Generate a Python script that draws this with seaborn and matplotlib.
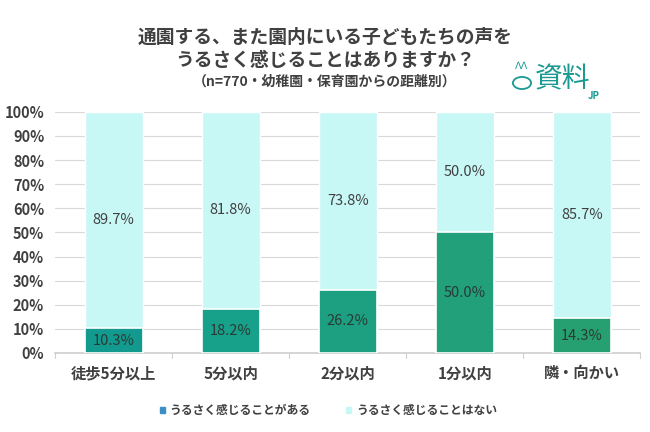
import matplotlib
matplotlib.use("Agg")
import matplotlib.pyplot as plt
from matplotlib.patches import Patch, Circle
import seaborn as sns
import pandas as pd

# data
categories = ["徒歩5分以上", "5分以内", "2分以内", "1分以内", "隣・向かい"]
yes_pct = [10.3, 18.2, 26.2, 50.0, 14.3]   # うるさく感じることがある
no_pct = [89.7, 81.8, 73.8, 50.0, 85.7]    # うるさく感じることはない
series_names = ["うるさく感じることがある", "うるさく感じることはない"]

yes_colors = ["#129a8e", "#17a08a", "#1ca081", "#21a07a", "#26a070"]
no_color = "#c8f8f6"
text_color = "#404040"
logo_color = "#1a9a93"

sns.set_theme(style="white")
plt.rcParams["font.family"] = ["Noto Sans CJK JP", "DejaVu Sans"]

df = pd.DataFrame({"cat": categories, "yes": yes_pct, "no": no_pct})
df["total"] = df["yes"] + df["no"]

fig = plt.figure(figsize=(6.5, 4.32), dpi=100)
ax = fig.add_axes([0.085, 0.183, 0.9, 0.558])

# full-height (light) bars, then the lower segment on top of them
sns.barplot(data=df, x="cat", y="total", color=no_color, width=0.5,
            saturation=1, ax=ax, zorder=2)
sns.barplot(data=df, x="cat", y="yes", hue="cat", palette=yes_colors,
            width=0.5, saturation=1, legend=False, ax=ax, zorder=3,
            edgecolor="white", linewidth=1.2)

upper = ax.containers[0]
for patch, y0, v in zip(upper, yes_pct, no_pct):
    ax.text(patch.get_x() + patch.get_width() / 2, y0 + v / 2, f"{v:.1f}%",
            ha="center", va="center", fontsize=10.5, color=text_color,
            zorder=5)
for cont, v in zip(ax.containers[1:], yes_pct):
    ax.bar_label(cont, labels=[f"{v:.1f}%"], label_type="center",
                 fontsize=10.5, color="#2a3a36", zorder=5)

ax.set_ylim(0, 100)
ax.set_xlim(-0.5, len(categories) - 0.5)
ax.set_yticks(range(0, 101, 10))
ax.set_yticklabels([f"{t}%" for t in range(0, 101, 10)], fontsize=10.5,
                   color=text_color)
ax.yaxis.grid(True, color="#d9d9d9", linewidth=0.8, zorder=0)
ax.set_axisbelow(True)
ax.tick_params(axis="y", length=0, pad=8)
ax.tick_params(axis="x", length=0, pad=9, labelsize=11, labelcolor=text_color)
for lbl in ax.get_xticklabels() + ax.get_yticklabels():
    lbl.set_fontweight("bold")
ax.set_xlabel("")
ax.set_ylabel("")
for s in ["top", "right", "left"]:
    ax.spines[s].set_visible(False)
ax.spines["bottom"].set_color("#d0d0d0")

# small separators between categories below the axis
for i in range(len(categories) + 1):
    ax.plot([i - 0.5, i - 0.5], [0, -2.2], color="#d0d0d0", lw=0.8,
            clip_on=False)

# title
fig.text(0.5, 0.887, "通園する、また園内にいる子どもたちの声を\nうるさく感じることはありますか？",
         ha="center", va="center", fontsize=13.5, fontweight="bold",
         color=text_color, linespacing=1.3)
fig.text(0.5, 0.81, "（n=770・幼稚園・保育園からの距離別）", ha="center",
         va="center", fontsize=10, fontweight="bold", color=text_color)

# logo
fig.text(0.822, 0.815, "資料", ha="left", va="center", fontsize=20,
         color=logo_color)
fig.text(0.905, 0.778, "JP", ha="left", va="center", fontsize=7,
         fontweight="bold", color=logo_color)
fig.patches.append(Circle((522 / 650, 1 - 83 / 432), 0.014, lw=1.3,
                          ec=logo_color, fc="none",
                          transform=fig.transFigure))
fig.text(522 / 650, 1 - 66 / 432, "ᐱᐱ", ha="center", va="center",
         fontsize=7, color=logo_color, family=["DejaVu Sans"])

handles = [Patch(color="#3b8fc4"), Patch(color=no_color)]
fig.legend(handles, series_names, loc="center", bbox_to_anchor=(0.505, 0.05),
           ncol=2, frameon=False, handlelength=0.45, handleheight=0.45,
           handletextpad=0.4, columnspacing=3,
           prop={"size": 8.5, "weight": "bold"}, labelcolor=text_color)

fig.savefig("out.png", dpi=100)
